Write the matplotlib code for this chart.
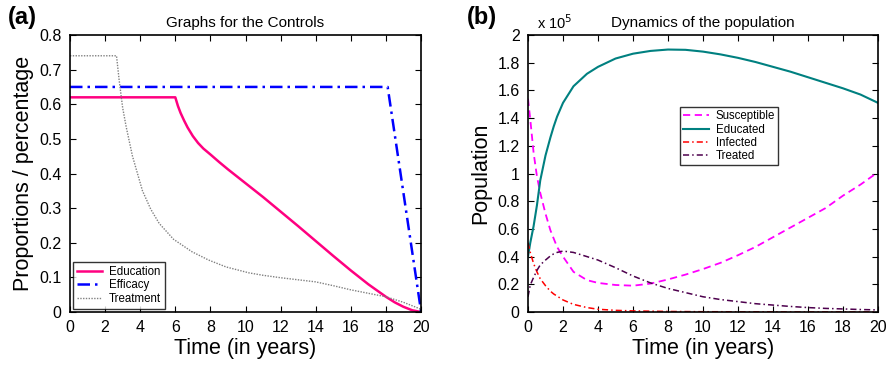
import numpy as np
import matplotlib
matplotlib.use("Agg")
import matplotlib.pyplot as plt
from matplotlib.ticker import FuncFormatter

plt.rcParams['font.family'] = ['Liberation Sans', 'DejaVu Sans']

# Panel (a): controls
tEdu = [0, 6, 6.15, 6.3, 6.5, 6.7, 7.0, 7.3, 7.6, 8.0, 8.5, 9, 10, 11, 12, 13, 14, 15, 16, 17, 18, 18.5, 19, 19.5, 20]
education = [0.62, 0.62, 0.595, 0.575, 0.553, 0.533, 0.508, 0.488, 0.472, 0.455, 0.433, 0.412, 0.372, 0.332, 0.29, 0.248, 0.205, 0.162, 0.12, 0.08, 0.044, 0.028, 0.015, 0.005, 0.0]
tEff = [0, 18.1, 19.95, 20]
efficacy = [0.65, 0.65, 0.02, 0.0]
tTrt = [0, 2.65, 2.8, 3.0, 3.2, 3.56, 4.13, 4.6, 5.08, 5.9, 6.95, 7.9, 8.9, 10.2, 11, 12, 13, 14, 15, 16, 17, 18, 19, 20]
treatment = [0.74, 0.74, 0.67, 0.59, 0.535, 0.45, 0.35, 0.297, 0.256, 0.21, 0.174, 0.15, 0.13, 0.113, 0.106, 0.099, 0.093, 0.087, 0.076, 0.064, 0.054, 0.044, 0.028, 0.008]

# Panel (b): population (x 10^5)
tPop = [0, 0.13, 0.32, 0.51, 0.7, 1.0, 1.28, 1.47, 1.66, 2, 2.6, 3.37, 4, 5, 6, 7, 8, 9, 10, 11, 12, 13, 14, 15, 16, 17, 18, 19, 20]
susceptible = [1.54, 1.39, 1.15, 0.98, 0.86, 0.71, 0.59, 0.53, 0.47, 0.40, 0.29, 0.23, 0.21, 0.195, 0.19, 0.205, 0.235, 0.27, 0.31, 0.355, 0.41, 0.47, 0.54, 0.61, 0.68, 0.75, 0.84, 0.92, 1.01]
educated = [0.40, 0.5, 0.62, 0.77, 0.95, 1.13, 1.26, 1.34, 1.41, 1.51, 1.63, 1.72, 1.77, 1.83, 1.865, 1.885, 1.895, 1.893, 1.88, 1.86, 1.835, 1.805, 1.77, 1.735, 1.695, 1.655, 1.615, 1.57, 1.51]
infected = [0.50, 0.43, 0.35, 0.29, 0.24, 0.19, 0.15, 0.13, 0.115, 0.087, 0.055, 0.032, 0.02, 0.012, 0.008, 0.006, 0.004, 0.003, 0.002, 0.002, 0.001, 0.001, 0.001, 0.0, 0.0, 0.0, 0.0, 0.0, 0.0]
treated = [0.11, 0.195, 0.25, 0.30, 0.34, 0.375, 0.405, 0.42, 0.43, 0.44, 0.43, 0.40, 0.375, 0.32, 0.26, 0.21, 0.17, 0.14, 0.11, 0.09, 0.075, 0.06, 0.05, 0.04, 0.032, 0.026, 0.022, 0.018, 0.015]

fig = plt.figure(figsize=(8.93, 3.70), dpi=100)
axA = fig.add_axes([70/893, 1-312/370, 351/893, 277/370])
axB = fig.add_axes([528/893, 1-312/370, 350/893, 277/370])

def styleAxes(ax):
    ax.tick_params(direction='in', top=True, right=True, labelsize=11.5, length=4, width=0.8, pad=6)
    for s in ax.spines.values():
        s.set_linewidth(1.2)
    ax.set_xlim(0, 20)
    ax.set_xticks(np.arange(0, 21, 2))
    ax.set_xlabel("Time (in years)", fontsize=15.5, labelpad=2)
    ax.yaxis.set_major_formatter(FuncFormatter(lambda v, p: "%g" % round(v, 2)))

# (a)
axA.plot(tEdu, education, color=(1.0, 0.0, 0.5), lw=1.8, label="Education")
axA.plot(tEff, efficacy, color="blue", lw=1.8, ls=(0, (5, 2, 1, 2)), label="Efficacy")
axA.plot(tTrt, treatment, color="gray", lw=1.0, ls=(0, (1, 1)), label="Treatment")
styleAxes(axA)
axA.set_ylim(0, 0.8)
axA.set_yticks(np.arange(0, 0.81, 0.1))
axA.set_ylabel("Proportions / percentage", fontsize=15.5, labelpad=4)
axA.set_title("Graphs for the Controls", fontsize=11, pad=6)
leg = axA.legend(loc="lower left", fontsize=8.3, frameon=True, fancybox=False, edgecolor="black",
                 handlelength=2.2, borderaxespad=0.3, labelspacing=0.15, borderpad=0.3, handletextpad=0.6)
leg.get_frame().set_linewidth(1.0)

# (b)
axB.plot(tPop, susceptible, color="magenta", lw=1.3, ls=(0, (4, 2.5)), label="Susceptible")
axB.plot(tPop, educated, color=(0.0, 0.5, 0.5), lw=1.5, label="Educated")
axB.plot(tPop, infected, color="red", lw=1.1, ls=(0, (4, 2, 1, 2)), label="Infected")
axB.plot(tPop, treated, color=(0.3, 0.0, 0.3), lw=1.1, ls=(0, (4, 2, 1, 2)), label="Treated")
styleAxes(axB)
axB.set_ylim(0, 2)
axB.set_yticks(np.arange(0, 2.01, 0.2))
axB.set_ylabel("Population", fontsize=15.5, labelpad=4)
axB.set_title("Dynamics of the population", fontsize=11, pad=6)
axB.text(0.025, 1.01, r"x 10$^5$", transform=axB.transAxes, fontsize=10.5, va="bottom")
leg = axB.legend(loc="upper left", bbox_to_anchor=(0.434, 0.74), fontsize=8.3, frameon=True,
                 fancybox=False, edgecolor="black", handlelength=2.2, borderaxespad=0.0,
                 labelspacing=0.1, borderpad=0.3, handletextpad=0.6)
leg.get_frame().set_linewidth(1.0)

fig.text(8/893, 1-24/370, "(a)", fontsize=17, fontweight="bold")
fig.text(467/893, 1-24/370, "(b)", fontsize=17, fontweight="bold")

fig.savefig("out.png", dpi=100)
